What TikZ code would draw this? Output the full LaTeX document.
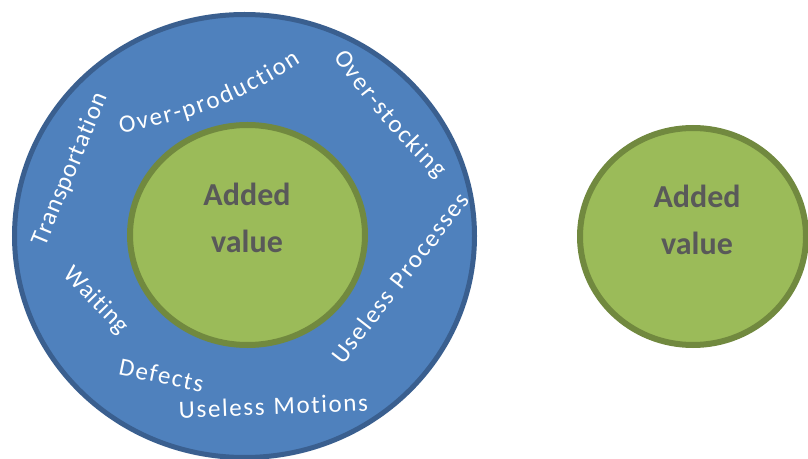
\documentclass[tikz,border=0pt]{standalone}
\usepackage{fontspec}
\usetikzlibrary{
  shapes.geometric,
  decorations.text
}
\newfontfamily\calib{Carlito}
\definecolor{wasteblue}{HTML}{4F81BD}
\definecolor{wasteedge}{HTML}{3A5F8F}
\definecolor{valuegreen}{HTML}{9BBB59}
\definecolor{valueedge}{HTML}{71893F}
\definecolor{valuetext}{HTML}{595959}
\newcommand{\ringfont}{\calib\fontsize{25}{25}\selectfont}
\newcommand{\valuefont}{\calib\bfseries\fontsize{32}{47}\selectfont}
\tikzset{
  wastering/.style={
    ellipse, draw=wasteedge, fill=wasteblue, line width=5pt,
    inner sep=0pt, minimum width=460pt, minimum height=443pt
  },
  valuedisc/.style={
    ellipse, draw=valueedge, fill=valuegreen, line width=6pt,
    inner sep=0pt
  },
  valuelabel/.style={
    align=center, text=valuetext, font=\valuefont
  },
  ringtext/.style={
    decorate,
    decoration={text along path, text={|\ringfont|#1},
      text color=white, text align={fit to path}, raise=-6pt}
  }
}

\begin{document}
\begin{tikzpicture}[x=1pt, y=1pt]
\clip (0,0) rectangle (808,458);

% ── Waste ring around the value core ─────────────────────────────────────────
\node[wastering] (waste) at (244.5,222) {};
\node[valuedisc, minimum width=235pt, minimum height=220pt] (core)
  at (247.5,223) {};
\node[valuelabel] (coretext) at (247,240.3) {Added\\value};

% ── Wastes written round the ring ────────────────────────────────────────────
\path[ringtext=Transportation] (39.7,212.5) -- (102.3,363.5);
\path[ringtext=Over-production] (119.4,330.8) to[bend right=11] (297.6,400.2);
\path[ringtext=Over-stocking] (338,404.5) to[bend right=5] (442,283.4);
\path[ringtext=Useless Processes] (338.3,96.3) -- (465.7,260.7);
\path[ringtext=Waiting] (66.4,186.7) -- (124.2,127.7);
\path[ringtext=Defects] (119.1,89.2) -- (202.9,71.8);
\path[ringtext=Useless Motions] (179,45.8) -- (368,53.2);

% ── Lean process: value only ─────────────────────────────────────────────────
\node[valuedisc, minimum width=226pt, minimum height=217pt] (lean)
  at (693,221.5) {};
\node[valuelabel] (leantext) at (697,238.3) {Added\\value};

\end{tikzpicture}
\end{document}
